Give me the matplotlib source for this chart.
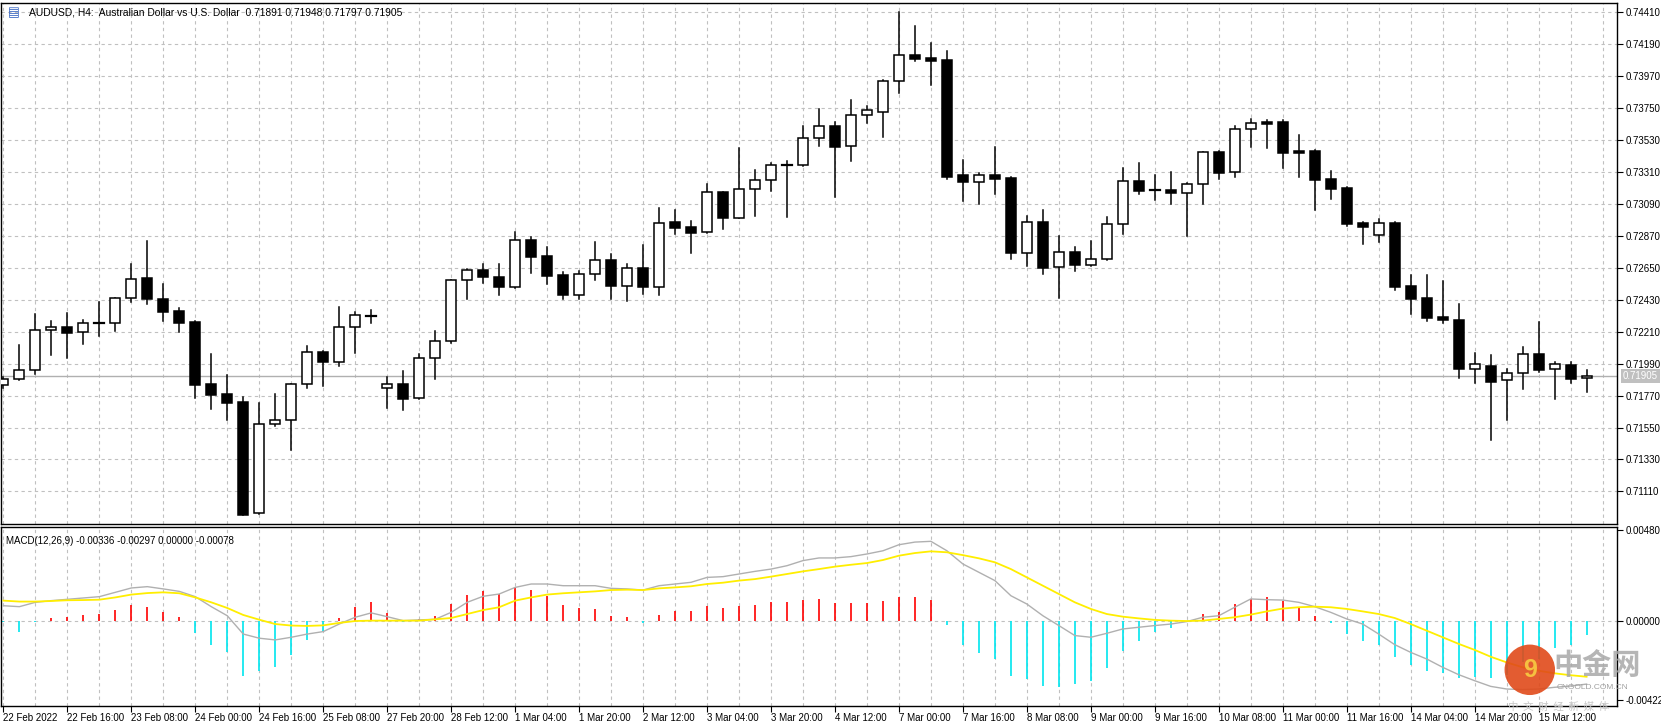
import matplotlib
matplotlib.use("Agg")
import matplotlib.pyplot as plt
from matplotlib.patches import Rectangle, Ellipse

plt.rcParams["font.family"] = ["Liberation Sans", "DejaVu Sans", "Noto Sans CJK SC"]

# ---- AUDUSD H4 candles (22 Feb 2022 - 15 Mar 2022) ----
opens = [0.71843, 0.71882, 0.71944, 0.72220, 0.72240, 0.72206, 0.72268, 0.72268, 0.72440, 0.72578,
         0.72433, 0.72350, 0.72275, 0.71850, 0.71781, 0.71723, 0.70958, 0.71572, 0.71599, 0.71847,
         0.72068, 0.72003, 0.72240, 0.72318, 0.71820, 0.71850, 0.71751, 0.72027, 0.72144, 0.72564,
         0.72633, 0.72585, 0.72516, 0.72840, 0.72730, 0.72599, 0.72465, 0.72606, 0.72702, 0.72523,
         0.72647, 0.72516, 0.72964, 0.72930, 0.72895, 0.73171, 0.72996, 0.73191, 0.73253, 0.73357,
         0.73357, 0.73543, 0.73626, 0.73488, 0.73701, 0.73722, 0.73936, 0.74115, 0.74094, 0.74083,
         0.73288, 0.73244, 0.73288, 0.73269, 0.72754, 0.72964, 0.72658, 0.72757, 0.72672, 0.72713,
         0.72950, 0.73247, 0.73185, 0.73185, 0.73164, 0.73226, 0.73446, 0.73309, 0.73605, 0.73655,
         0.73655, 0.73453, 0.73453, 0.73260, 0.73198, 0.72957, 0.72874, 0.72957, 0.72523, 0.72440,
         0.72309, 0.72289, 0.71955, 0.71971, 0.71875, 0.71923, 0.72054, 0.71951, 0.71980, 0.71891]
highs = [0.71898, 0.72118, 0.72332, 0.72284, 0.72339, 0.72291, 0.72413, 0.72442, 0.72677, 0.72835,
         0.72539, 0.72373, 0.72286, 0.72054, 0.71911, 0.71762, 0.71716, 0.71779, 0.71850, 0.72111,
         0.72079, 0.72380, 0.72344, 0.72357, 0.71898, 0.71939, 0.72056, 0.72213, 0.72566, 0.72640,
         0.72674, 0.72674, 0.72895, 0.72861, 0.72794, 0.72619, 0.72630, 0.72826, 0.72743, 0.72674,
         0.72805, 0.73060, 0.73047, 0.72971, 0.73226, 0.73173, 0.73474, 0.73322, 0.73371, 0.73384,
         0.73626, 0.73743, 0.73653, 0.73805, 0.73763, 0.73943, 0.74411, 0.74317, 0.74198, 0.74145,
         0.73393, 0.73302, 0.73483, 0.73278, 0.73007, 0.73049, 0.72872, 0.72792, 0.72835, 0.72998,
         0.73336, 0.73371, 0.73288, 0.73309, 0.73233, 0.73448, 0.73453, 0.73626, 0.73674, 0.73669,
         0.73669, 0.73563, 0.73460, 0.73317, 0.73205, 0.72964, 0.72985, 0.72964, 0.72599, 0.72599,
         0.72557, 0.72399, 0.72061, 0.72051, 0.71956, 0.72102, 0.72275, 0.71999, 0.72001, 0.71948]
lows = [0.71822, 0.71877, 0.71916, 0.72051, 0.72031, 0.72127, 0.72182, 0.72217, 0.72417, 0.72403,
        0.72286, 0.72210, 0.71755, 0.71679, 0.71601, 0.70945, 0.70951, 0.71562, 0.71397, 0.71824,
        0.71838, 0.71976, 0.72065, 0.72272, 0.71686, 0.71672, 0.71746, 0.71882, 0.72132, 0.72437,
        0.72548, 0.72465, 0.72512, 0.72617, 0.72541, 0.72433, 0.72433, 0.72568, 0.72433, 0.72422,
        0.72472, 0.72465, 0.72885, 0.72754, 0.72893, 0.72920, 0.72992, 0.73009, 0.73182, 0.73003,
        0.73350, 0.73492, 0.73140, 0.73388, 0.73646, 0.73550, 0.73857, 0.74078, 0.73912, 0.73264,
        0.73113, 0.73092, 0.73159, 0.72713, 0.72665, 0.72610, 0.72444, 0.72630, 0.72665, 0.72706,
        0.72885, 0.73161, 0.73120, 0.73092, 0.72872, 0.73088, 0.73264, 0.73278, 0.73485, 0.73478,
        0.73340, 0.73278, 0.73051, 0.73127, 0.72940, 0.72816, 0.72830, 0.72499, 0.72334, 0.72286,
        0.72272, 0.71893, 0.71858, 0.71463, 0.71599, 0.71817, 0.71930, 0.71746, 0.71860, 0.71797]
closes = [0.71884, 0.71944, 0.72220, 0.72240, 0.72199, 0.72268, 0.72270, 0.72440, 0.72571, 0.72433,
          0.72348, 0.72272, 0.71845, 0.71776, 0.71721, 0.70949, 0.71572, 0.71599, 0.71847, 0.72068,
          0.72003, 0.72240, 0.72323, 0.72320, 0.71847, 0.71748, 0.72027, 0.72144, 0.72564, 0.72633,
          0.72585, 0.72516, 0.72840, 0.72727, 0.72596, 0.72465, 0.72606, 0.72702, 0.72527, 0.72647,
          0.72516, 0.72957, 0.72927, 0.72892, 0.73171, 0.72996, 0.73191, 0.73253, 0.73357, 0.73355,
          0.73543, 0.73626, 0.73481, 0.73701, 0.73736, 0.73936, 0.74115, 0.74091, 0.74078, 0.73278,
          0.73244, 0.73288, 0.73264, 0.72754, 0.72964, 0.72651, 0.72757, 0.72672, 0.72713, 0.72950,
          0.73247, 0.73182, 0.73184, 0.73164, 0.73226, 0.73446, 0.73306, 0.73605, 0.73646, 0.73643,
          0.73444, 0.73444, 0.73257, 0.73195, 0.72954, 0.72930, 0.72957, 0.72520, 0.72437, 0.72306,
          0.72293, 0.71955, 0.71985, 0.71866, 0.71923, 0.72054, 0.71948, 0.71985, 0.71885, 0.71905]

# ---- MACD(12,26,9), values in 1e-5 ----
macd_hist = [-5, -58, -9, 16, 21, 32, 37, 58, 85, 74, 48, 21, -67, -127, -168, -291, -268, -243, -182, -101,
             -53, 12, 71, 97, 42, -5, 7, 26, 90, 138, 155, 143, 176, 164, 132, 85, 65, 64, 26, 21,
             -12, 32, 49, 49, 79, 69, 79, 85, 97, 97, 108, 116, 92, 95, 95, 106, 127, 127, 111, -25,
             -129, -173, -205, -291, -309, -348, -349, -337, -318, -252, -161, -106, -62, -39, -9, 37, 48, 90, 116, 127,
             102, 74, 26, -14, -72, -109, -129, -191, -233, -265, -277, -305, -296, -305, -286, -221, -203, -146, -129, -78]
macd_main = [79, 74, 97, 106, 113, 120, 127, 150, 173, 180, 168, 155, 127, 74, 26, -71, -93, -102, -88, -71,
             -58, -18, 18, 41, 21, 0, 4, 7, 44, 97, 129, 141, 176, 194, 194, 185, 185, 185, 171, 168,
             162, 185, 194, 203, 229, 233, 247, 261, 273, 291, 318, 332, 332, 339, 353, 370, 402, 416, 420, 370,
             300, 256, 212, 132, 88, 26, -26, -79, -88, -67, -44, -35, -26, -18, -5, 18, 26, 71, 115, 111,
             109, 97, 74, 44, 9, -18, -71, -127, -168, -203, -247, -286, -318, -348, -362, -365, -362, -353, -346, -336]
macd_signal = [106, 101, 101, 104, 108, 109, 111, 123, 138, 146, 150, 145, 123, 97, 67, 30, 5, -18, -26, -28,
               -25, -12, -2, 0, 0, 0, 0, 7, 14, 35, 56, 71, 106, 123, 138, 145, 150, 155, 162, 164,
               162, 171, 176, 182, 194, 201, 212, 220, 233, 247, 261, 273, 286, 296, 305, 321, 344, 358, 367, 362,
               347, 330, 309, 273, 229, 185, 141, 97, 62, 35, 21, 12, 4, 0, -2, 0, 9, 18, 32, 49,
               64, 71, 74, 71, 62, 49, 35, 14, -18, -53, -88, -123, -155, -191, -221, -247, -265, -279, -289, -297]

time_labels = ["22 Feb 2022", "22 Feb 16:00", "23 Feb 08:00", "24 Feb 00:00", "24 Feb 16:00",
               "25 Feb 08:00", "27 Feb 20:00", "28 Feb 12:00", "1 Mar 04:00", "1 Mar 20:00",
               "2 Mar 12:00", "3 Mar 04:00", "3 Mar 20:00", "4 Mar 12:00", "7 Mar 00:00",
               "7 Mar 16:00", "8 Mar 08:00", "9 Mar 00:00", "9 Mar 16:00", "10 Mar 08:00",
               "11 Mar 00:00", "11 Mar 16:00", "14 Mar 04:00", "14 Mar 20:00", "15 Mar 12:00"]
price_ticks = [0.74410, 0.74190, 0.73970, 0.73750, 0.73530, 0.73310, 0.73090, 0.72870,
               0.72650, 0.72430, 0.72210, 0.71990, 0.71770, 0.71550, 0.71330, 0.71110]
last_price = 0.71905

n = len(closes)
xs = list(range(n))
grid_kw = dict(color="#c0c0c0", linestyle=(0, (3, 3)), linewidth=0.8)

fig = plt.figure(figsize=(16.61, 7.21), dpi=100)
ax = fig.add_axes([0.0006, 0.2732, 0.9729, 0.7226])
axm = fig.add_axes([0.0006, 0.0208, 0.9729, 0.2483], sharex=ax)

# ---- price panel ----
for p in price_ticks:
    ax.axhline(p, zorder=0, **grid_kw)
for i in range(0, n + 1, 2):
    ax.axvline(i, zorder=0, **grid_kw)
    axm.axvline(i, zorder=0, **grid_kw)
ax.axhline(last_price, color="#b0b0b0", linewidth=1.0, zorder=1)

w = 0.62
for i in xs:
    o, h, l, c = opens[i], highs[i], lows[i], closes[i]
    ax.plot([i, i], [l, h], color="black", linewidth=1.1, zorder=2)
    lo, hi = min(o, c), max(o, c)
    if hi - lo < 0.00003:
        ax.plot([i - w / 2, i + w / 2], [o, o], color="black", linewidth=1.6, zorder=3)
        continue
    face = "white" if c >= o else "black"
    ax.add_patch(Rectangle((i - w / 2, lo), w, hi - lo, facecolor=face,
                           edgecolor="black", linewidth=1.1, zorder=3))

ax.set_xlim(-0.15, 100.9)
ax.set_ylim(0.70885, 0.74475)
ax.yaxis.tick_right()
ax.set_yticks(price_ticks)
ax.set_yticklabels([f"{p:.5f}" for p in price_ticks])
ax.tick_params(axis="y", length=4, width=0.8, labelsize=7, pad=2)
ax.tick_params(axis="x", bottom=False, labelbottom=False)
for s in ax.spines.values():
    s.set_linewidth(1.0)
ax.text(1.0035, last_price, f"{last_price:.5f}", transform=ax.get_yaxis_transform(),
        va="center", ha="left", fontsize=7, color="white",
        bbox=dict(boxstyle="square,pad=0.2", fc="#c0c0c0", ec="none"))
fig.text(0.0045, 0.982, "▤", fontsize=9, color="#3060c0", va="center",
         family=["DejaVu Sans"])
fig.text(0.0175, 0.982, "AUDUSD, H4:  Australian Dollar vs U.S. Dollar  0.71891 0.71948 0.71797 0.71905",
         fontsize=7.4, va="center")

# ---- MACD panel ----
hist_vals = [v * 1e-5 for v in macd_hist]
cols = ["red" if v >= 0 else "#00e5ee" for v in hist_vals]
axm.vlines(xs, 0, hist_vals, colors=cols, linewidth=1.2, zorder=2)
axm.plot(xs, [v * 1e-5 for v in macd_main], color="#b0b0b0", linewidth=1.0, zorder=3)
axm.plot(xs, [v * 1e-5 for v in macd_signal], color="#ffee00", linewidth=1.3, zorder=3)
axm.axhline(0, zorder=1, **grid_kw)
axm.set_ylim(-0.00452, 0.00496)
axm.yaxis.tick_right()
axm.set_yticks([0.00480, 0.0, -0.00422])
axm.set_yticklabels(["0.00480", "0.00000", "-0.00422"])
axm.tick_params(axis="y", length=4, width=0.8, labelsize=7, pad=2)
axm.text(0.003, 0.92, "MACD(12,26,9) -0.00336 -0.00297 0.00000 -0.00078",
         transform=axm.transAxes, fontsize=7, va="center")
label_pos = list(range(0, 4 * len(time_labels), 4))
axm.set_xticks(label_pos)
axm.set_xticklabels(time_labels, ha="left")
axm.tick_params(axis="x", length=4, width=0.8, labelsize=7, pad=1)
for s in axm.spines.values():
    s.set_linewidth(1.0)

# watermark
r = 0.035
logo = Ellipse((0.921, 0.071), r * 721 / 1661 * 2, r * 2, transform=fig.transFigure,
               facecolor="#e04a1a", edgecolor="none", alpha=0.9, zorder=10)
fig.patches.append(logo)
fig.text(0.921, 0.071, "9", fontsize=18, color="#f5c040", ha="center", va="center",
         fontweight="bold", zorder=11)
fig.text(0.9355, 0.078, "中金网", fontsize=21, color="#a8a8a8", fontweight="bold",
         family=["Noto Sans CJK SC"], va="center", alpha=0.85)
fig.text(0.937, 0.046, "CNGOLD.COM.CN", fontsize=6, color="#a0a0a0", va="center")
fig.text(0.908, 0.019, "中  文  财  经  新  媒  体", fontsize=7.5, color="#c8c8c8",
         family=["Noto Sans CJK SC"], va="center")

fig.savefig("out.png", dpi=100)
